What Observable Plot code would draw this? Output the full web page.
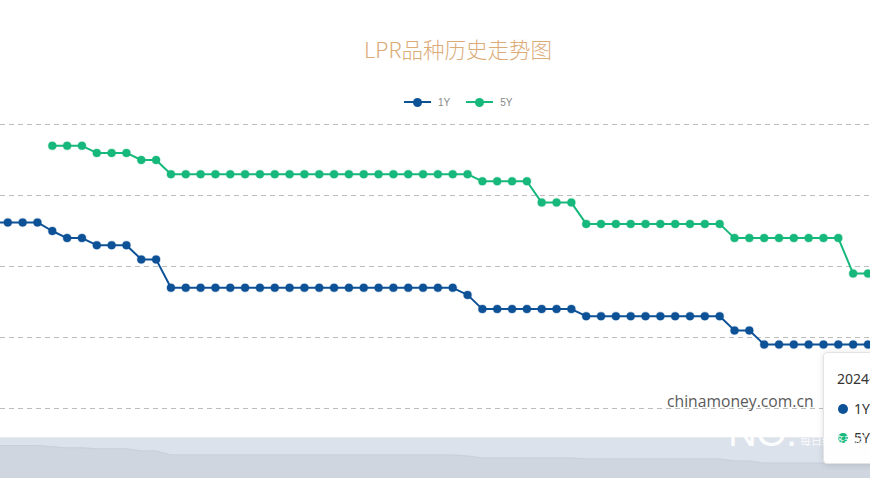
<!DOCTYPE html>
<html>
<head>
<meta charset="utf-8">
<script src="https://cdn.jsdelivr.net/npm/d3@7"></script>
<script src="https://cdn.jsdelivr.net/npm/@observablehq/plot@0.6"></script>
<style>
  html, body { margin: 0; padding: 0; background: #fff; }
  #wrap { position: relative; width: 870px; height: 492px; overflow: hidden; font-family: "Noto Sans CJK SC", "Noto Sans", sans-serif; }
  #wrap svg { position: absolute; left: 0; }
  .title { position: absolute; left: 0; width: 916px; top: 33px; text-align: center; font-size: 21.5px; color: #dbab78; font-family: "Noto Sans CJK SC", sans-serif; font-weight: 300; }
  .legend { position: absolute; top: 95px; left: 404px; font-size: 10px; color: #888; font-family: "Liberation Sans", Arial, sans-serif; display: flex; align-items: center; }
  .lg { display: flex; align-items: center; margin-right: 16px; }
  .sym { position: relative; width: 27px; height: 14px; margin-right: 7px; }
  .sym .ln { position: absolute; left: 0; right: 0; top: 6px; height: 2px; }
  .sym .dt { position: absolute; left: 9px; top: 3px; width: 9px; height: 9px; border-radius: 50%; }
  .wm { position: absolute; left: 667px; top: 390px; font-size: 15.7px; color: #5a5a5a; font-family: "Open Sans", sans-serif; }
  .tip { position: absolute; left: 823px; top: 352px; width: 90px; height: 110px; background: rgba(255,255,255,0.96); border: 1px solid #e3e3e3; border-radius: 4px; box-shadow: 0 1px 6px rgba(0,0,0,0.12); font-family: "Noto Sans", sans-serif; color: #333; }
  .tip .d { position: absolute; left: 13px; top: 16px; font-size: 14px; }
  .tip .r { position: absolute; left: 14px; font-size: 14px; display: flex; align-items: center; }
  .tip .r i { display: inline-block; width: 10px; height: 10px; border-radius: 50%; margin-right: 6px; }
  .no { position: absolute; left: 728px; top: 410px; font-size: 40px; color: rgba(255,255,255,0.95); font-family: "Liberation Sans", sans-serif; letter-spacing: -1px; }
  .no2 { position: absolute; left: 800px; top: 432px; font-size: 11px; color: rgba(255,255,255,0.85); font-family: "Noto Sans CJK SC", sans-serif; }
</style>
</head>
<body>
<div id="wrap">
  <div class="title">LPR品种历史走势图</div>
</div>
<script>
// Months (index = position along x)
const months = [
  "2019-04","2019-05","2019-06","2019-07","2019-08","2019-09","2019-10","2019-11","2019-12",
  "2020-01","2020-02","2020-03","2020-04","2020-05","2020-06","2020-07","2020-08","2020-09","2020-10","2020-11","2020-12",
  "2021-01","2021-02","2021-03","2021-04","2021-05","2021-06","2021-07","2021-08","2021-09","2021-10","2021-11","2021-12",
  "2022-01","2022-02","2022-03","2022-04","2022-05","2022-06","2022-07","2022-08","2022-09","2022-10","2022-11","2022-12",
  "2023-01","2023-02","2023-03","2023-04","2023-05","2023-06","2023-07","2023-08","2023-09","2023-10","2023-11","2023-12",
  "2024-01","2024-02","2024-03","2024-04"
];
const lpr1Y = [
  4.31,4.31,4.31,4.31,4.25,4.20,4.20,4.15,4.15,
  4.15,4.05,4.05,3.85,3.85,3.85,3.85,3.85,3.85,3.85,3.85,3.85,
  3.85,3.85,3.85,3.85,3.85,3.85,3.85,3.85,3.85,3.85,3.85,3.80,
  3.70,3.70,3.70,3.70,3.70,3.70,3.70,3.65,3.65,3.65,3.65,3.65,
  3.65,3.65,3.65,3.65,3.65,3.55,3.55,3.45,3.45,3.45,3.45,3.45,
  3.45,3.45,3.45,3.45
];
const lpr5Y = [
  null,null,null,null,4.85,4.85,4.85,4.80,4.80,
  4.80,4.75,4.75,4.65,4.65,4.65,4.65,4.65,4.65,4.65,4.65,4.65,
  4.65,4.65,4.65,4.65,4.65,4.65,4.65,4.65,4.65,4.65,4.65,4.65,
  4.60,4.60,4.60,4.60,4.45,4.45,4.45,4.30,4.30,4.30,4.30,4.30,
  4.30,4.30,4.30,4.30,4.30,4.20,4.20,4.20,4.20,4.20,4.20,4.20,
  4.20,3.95,3.95,3.95
];
const yTicks = [3.0, 3.5, 4.0, 4.5, 5.0];
const seriesNames = ["1Y", "5Y"];
const colors = {"1Y": "#0d5196", "5Y": "#17b87b"};

const data1 = months.map((m, i) => ({i, month: m, v: lpr1Y[i]}));
const data5 = months.map((m, i) => ({i, month: m, v: lpr5Y[i]})).filter(d => d.v != null);

const xDomain = [0.508, 59.17];
const wrap = document.getElementById("wrap");

const main = Plot.plot({
  width: 870, height: 492,
  marginLeft: 0, marginRight: 0, marginTop: 124, marginBottom: 84,
  x: {domain: xDomain, axis: null},
  y: {domain: [3, 5], axis: null},
  marks: [
    Plot.ruleY(yTicks, {stroke: "#bdbdbd", strokeWidth: 1, strokeDasharray: "5,4"}),
    Plot.lineY(data1, {x: "i", y: "v", stroke: colors["1Y"], strokeWidth: 2, clip: true}),
    Plot.dot(data1, {x: "i", y: "v", r: 4, fill: colors["1Y"], stroke: colors["1Y"], strokeOpacity: 0.25, strokeWidth: 1.5, clip: true}),
    Plot.lineY(data5, {x: "i", y: "v", stroke: colors["5Y"], strokeWidth: 2, clip: true}),
    Plot.dot(data5, {x: "i", y: "v", r: 4, fill: colors["5Y"], stroke: colors["5Y"], strokeOpacity: 0.25, strokeWidth: 1.5, clip: true})
  ]
});
main.style.top = "0px";
wrap.appendChild(main);

const slider = Plot.plot({
  width: 870, height: 40,
  marginLeft: 0, marginRight: 0, marginTop: 0, marginBottom: 0,
  x: {domain: xDomain, axis: null},
  y: {domain: [2.69, 4.66], axis: null},
  style: {background: "#dce2eb"},
  marks: [
    Plot.areaY(data1, {x: "i", y: "v", fill: "#cfd6e0", clip: true}),
    Plot.lineY(data1, {x: "i", y: "v", stroke: "#c9d0db", strokeWidth: 1, clip: true})
  ]
});
slider.style.top = "437px";
slider.style.borderTop = "1px solid #e6e8ec";
wrap.appendChild(slider);

// legend
const lg = document.createElement("div");
lg.className = "legend";
lg.innerHTML = seriesNames.map(s =>
  `<div class="lg"><div class="sym"><div class="ln" style="background:${colors[s]}"></div><div class="dt" style="background:${colors[s]}"></div></div><span>${s}</span></div>`
).join("");
wrap.appendChild(lg);

// watermark
const wm = document.createElement("div");
wm.className = "wm";
wm.textContent = "chinamoney.com.cn";
wrap.appendChild(wm);

// tooltip
const tip = document.createElement("div");
tip.className = "tip";
tip.innerHTML = `<div class="d">2024-03-20</div>
  <div class="r" style="top:46px"><i style="background:${colors["1Y"]}"></i>1Y: ${lpr1Y[59].toFixed(2)}</div>
  <div class="r" style="top:75px"><i style="background:${colors["5Y"]}"></i>5Y: ${lpr5Y[59].toFixed(2)}</div>`;
wrap.appendChild(tip);

const no = document.createElement("div");
no.className = "no";
no.textContent = "NO.";
wrap.appendChild(no);
const no2 = document.createElement("div");
no2.className = "no2";
no2.textContent = "每日经济新闻";
wrap.appendChild(no2);
</script>
</body>
</html>
